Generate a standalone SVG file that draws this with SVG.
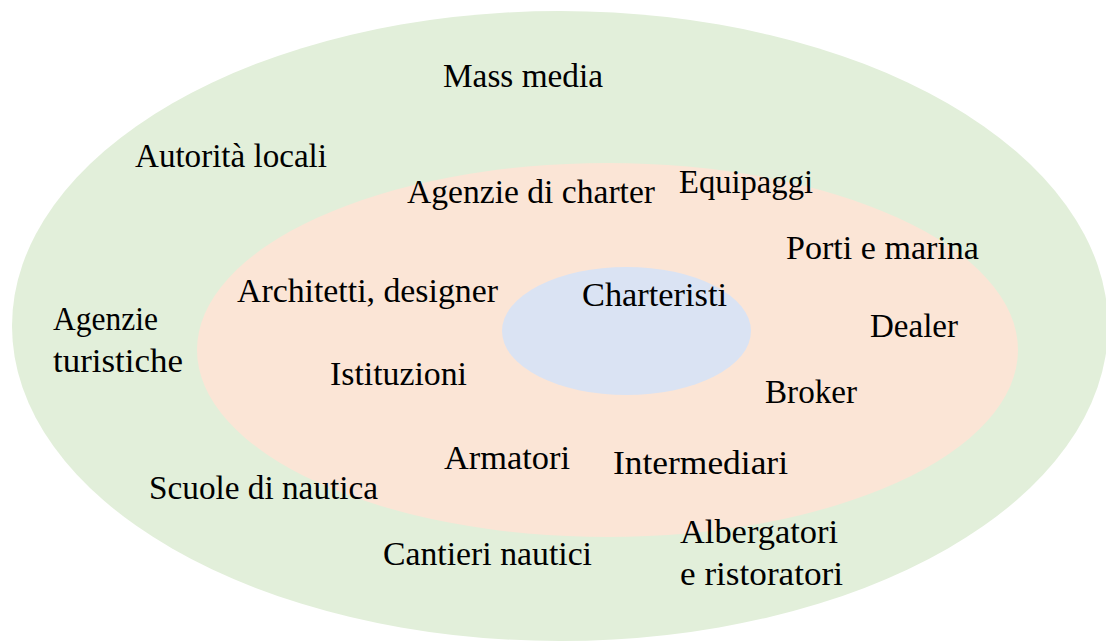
<svg xmlns="http://www.w3.org/2000/svg" width="1106" height="642" viewBox="0 0 1106 642">
<style>
  text { font-family: "Liberation Serif", "DejaVu Serif", serif; font-size: 33px; fill: #000000; }
  .outer { fill: #E2EFDA; }
  .middle { fill: #FBE5D6; }
  .inner { fill: #DAE3F3; }
</style>
<rect width="1106" height="642" fill="#FFFFFF"/>
<g id="ring-outer"><ellipse class="outer" cx="560" cy="326" rx="548" ry="315"/></g>
<g id="ring-middle"><ellipse class="middle" cx="607.5" cy="350" rx="410.5" ry="187"/></g>
<g id="ring-inner"><ellipse class="inner" cx="626.5" cy="331" rx="124.5" ry="64"/></g>
<g id="connectors"></g>
<g id="labels">
  <g id="n-mass-media"><text x="443" y="87" textLength="160" lengthAdjust="spacingAndGlyphs">Mass media</text></g>
  <g id="n-autorita"><text x="135" y="167" textLength="192" lengthAdjust="spacingAndGlyphs">Autorità locali</text></g>
  <g id="n-agenzie-charter"><text x="407" y="203" textLength="248" lengthAdjust="spacingAndGlyphs">Agenzie di charter</text></g>
  <g id="n-equipaggi"><text x="679" y="193" textLength="134" lengthAdjust="spacingAndGlyphs">Equipaggi</text></g>
  <g id="n-porti"><text x="786" y="259" textLength="193" lengthAdjust="spacingAndGlyphs">Porti e marina</text></g>
  <g id="n-architetti"><text x="237" y="302" textLength="261" lengthAdjust="spacingAndGlyphs">Architetti, designer</text></g>
  <g id="n-charteristi"><text x="582" y="306" textLength="145" lengthAdjust="spacingAndGlyphs">Charteristi</text></g>
  <g id="n-agenzie-turistiche">
    <text x="53" y="330" textLength="105" lengthAdjust="spacingAndGlyphs">Agenzie</text>
    <text x="53" y="372" textLength="130" lengthAdjust="spacingAndGlyphs">turistiche</text>
  </g>
  <g id="n-dealer"><text x="870" y="337" textLength="88" lengthAdjust="spacingAndGlyphs">Dealer</text></g>
  <g id="n-istituzioni"><text x="330" y="385" textLength="137" lengthAdjust="spacingAndGlyphs">Istituzioni</text></g>
  <g id="n-broker"><text x="765" y="403" textLength="92" lengthAdjust="spacingAndGlyphs">Broker</text></g>
  <g id="n-armatori"><text x="444" y="469" textLength="126" lengthAdjust="spacingAndGlyphs">Armatori</text></g>
  <g id="n-intermediari"><text x="613" y="474" textLength="175" lengthAdjust="spacingAndGlyphs">Intermediari</text></g>
  <g id="n-scuole"><text x="149" y="499" textLength="229" lengthAdjust="spacingAndGlyphs">Scuole di nautica</text></g>
  <g id="n-cantieri"><text x="383" y="565" textLength="209" lengthAdjust="spacingAndGlyphs">Cantieri nautici</text></g>
  <g id="n-albergatori">
    <text x="680" y="543" textLength="158" lengthAdjust="spacingAndGlyphs">Albergatori</text>
    <text x="680" y="585" textLength="163" lengthAdjust="spacingAndGlyphs">e ristoratori</text>
  </g>
</g>
</svg>
